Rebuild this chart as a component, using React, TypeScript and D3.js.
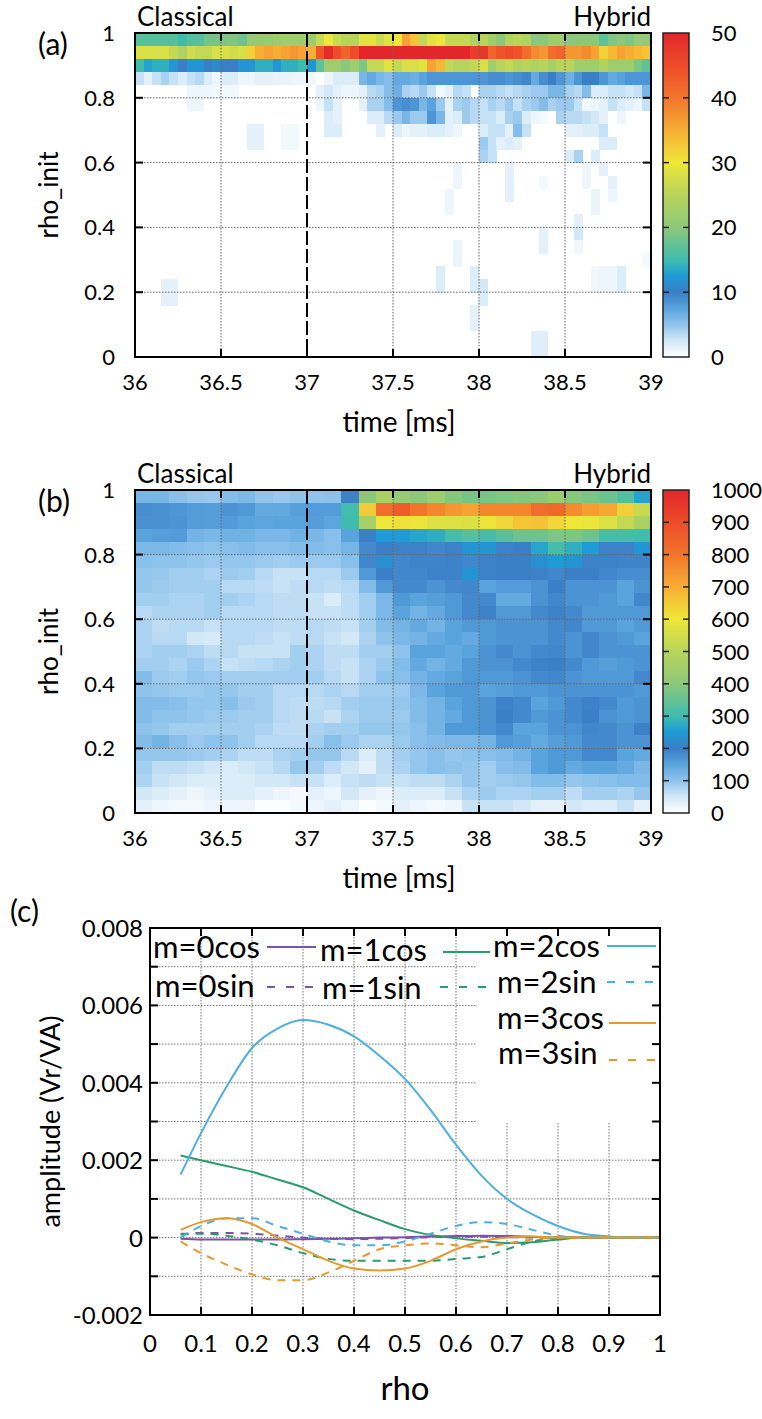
import React from "react";
import * as d3 from "d3";

const W = 762;
const H = 1419;
const FONT = "Lato, 'Open Sans', sans-serif";

// ---------- shared colour map ----------
const cmapStops = [0, 0.05, 0.1, 0.15, 0.2, 0.25, 0.3, 0.4, 0.5, 0.6, 0.7, 0.8, 0.9, 1];
const cmapColors = ["#ffffff", "#d2e8f7", "#8ec3ec", "#5aa4de", "#3a7ec5", "#1f9bd7", "#3ebcae", "#8dc87a", "#b8d45a", "#eee73a", "#f7ae35", "#f2752b", "#ed4b2a", "#e2262a"];

// ---------- panel (a) data : 60 time bins (36..39, 0.05 ms) x 25 rho bins (0.04) ----------
const timeStartA = 36;
const timeStepA = 0.05;
const rhoStep = 0.04;
const maxA = 50;
// rows from rho=1 downward
const heatATop: number[][] = [
  [16.5,16.5,16.5,16.5,16.5,15,16.5,16.5,18.5,18.5,19,19,18,21,21,21,22,22,22,22,21.5,26.5,30,26.5,25,25,29,29,26.5,29,30, 36,33,26,29,30,26,26,26,24,25,22,20,24,25,24,20,20,22,22,20,20,20,20,17,19,20,19,21,21],
  [28,28,28,28,26,24,27,26,26,28,28,27,28,32,35,36,35,36,37,36,35,44,49,45,42,45,50,50,50,50,50, 50,50,50,50,50,50,50,50,47,48,42,44,45,44,41,38,37,41,42,37,37,38,36,32,34,36,35,34,33],
  [15,13,14,14,12,10,12,12,10,11,10,10,12,12,14,14,12,14,14,15,12,17,22,22,20,22,19,26,26,29,26, 28,28,29,36,34,26,25,25,26,28,22,25,26,24,25,24,25,23,25,25,22,22,22,24,22,22,22,19,17],
  [3,1.5,3,4,3,2,3,3.5,2,1,2,2,1,1,1.5,1.5,1.3,1.3,1,1,0.8,0,1,2,2,2,6,7,6,5.5,7, 7,6.5,7.5,8.5,8.5,8.5,8.5,8.5,8.5,8.5,9,9,8.5,9,9.5,7,9,10,8.5,6.5,8.5,10,10,8.5,7,7.5,8.5,8.5,8.5],
  [0,0,0,0,0,0,1,1,1,0.7,0.7,0.7,0,0,0,0,0,0,0,0,0,1.5,2.5,1.5,1,1,1.5,3.5,4,5.5,6.5, 4,3.5,4.5,3,0.7,1.5,3.5,3,0,4,4,3.5,3,3.5,4,4.5,4.5,6,6,4,3.5,5.5,2,2,3,3,2.5,3,6],
  [0,0,0,0,0,0,1,1,0,0,0,0,0,0,0,0,0,0,0,0,0,1,3,1.5,0,0,1.5,4,4,5.5,8.5, 9,8.5,6,7.5,4.5,1.5,4,4.5,3.5,3,4,3.5,4.5,3,4,4.5,5.5,4,4.5,4.5,3,0.7,1,1.5,3,2,1.5,1,3],
  [0,0,0,0,0,0,0,0,0,0,0,0,0,0,0,0,0,0,0,0,0,0,2,1.5,0,0,0,2,2,3.5,4.5, 6,4.5,4.5,8.5,6,1.5,2,4.5,3.5,3,3,2,4,4.5,2,1,0.7,0,4,3.5,3.5,3,2.5,1.5,0,1,0,0,0],
  [0,0,0,0,0,0,0,0,0,0,0,0,0,1.5,1.5,0,0,0.7,0.7,0,0,0,2,2,0,0,0,0,1.5,0,2, 1,1.5,1.5,2,2,1.5,1,0,0,2,3,3,1.5,5.5,3,0,0,0,0,1.5,1.5,2,2,3,0,0,0,0,0],
];
// sparse lower cells: [column, row from top, value]
const heatASparse: [number, number, number][] = [
  [13,8,1.5],[14,8,1.5],[17,8,0.7],[18,8,0.7],[40,8,4.5],[41,8,3],[42,8,1.5],[43,8,2],[44,8,1.5],[54,8,2],[55,8,2],
  [40,9,4],[41,9,3],[50,9,2],[51,9,4],[53,9,2],
  [37,10,1],[43,10,1.5],[52,10,1],[54,10,1.5],
  [37,11,1],[43,11,1.5],[47,11,0.7],[55,11,1.5],[52,11,1],
  [36,12,1],[43,12,1.5],[53,12,1.2],[55,12,1],
  [36,13,1],[53,13,1.2],
  [51,14,1.5],
  [51,15,2.5],[47,15,1.5],
  [51,16,0.8],[47,16,1.5],[37,16,1.2],
  [37,17,1.2],[59,17,0.7],
  [35,18,2],[39,18,2],[53,18,0.8],[54,18,1],[55,18,1],[56,18,2],
  [35,19,2],[39,19,2],[40,19,2.5],[3,19,1.5],[4,19,1.5],[53,19,0.8],[54,19,1],[55,19,1],[56,19,2],
  [40,20,2],[3,20,1.5],[4,20,1.5],
  [39,21,1.5],[39,22,1.5],
  [46,23,1.8],[47,23,1.8],[46,24,1.8],[47,24,1.8],
];

// ---------- panel (b) data : 30 time bins (0.1 ms) x 25 rho bins ----------
const timeStartB = 36;
const timeStepB = 0.1;
const maxB = 1000;
const heatB: number[][] = [
  [120,120,105,95,93,110,115,98,93,100,100,103,195,400,470,420, 400,440,390,370,375,380,390,400,430,390,375,360,330,260],
  [180,175,170,160,158,172,165,140,142,155,160,160,305,650,820,860, 800,770,740,720,770,770,770,820,830,760,730,710,640,530],
  [175,175,172,160,158,162,150,148,150,150,158,148,300,460,600,610, 605,570,570,565,605,630,660,665,630,600,595,570,520,470],
  [150,158,160,125,118,128,128,118,118,128,118,105,150,200,250,250, 265,275,310,330,310,335,360,360,380,380,360,310,310,305],
  [118,118,112,105,100,105,112,105,105,112,112,105,122,185,198,196, 195,188,195,240,240,195,198,265,310,280,250,195,195,240],
  [105,100,100,95,90,95,95,90,85,90,90,90,105,188,230,188, 192,192,195,188,195,198,198,230,250,240,195,195,192,192],
  [95,93,85,85,78,90,85,70,58,58,70,70,90,165,198,188, 188,195,195,240,195,198,198,195,188,198,198,188,180,180],
  [95,90,85,85,85,70,70,65,58,65,70,65,70,112,165,185, 185,172,185,188,150,160,160,172,198,172,172,172,150,172],
  [85,85,78,78,85,85,78,70,65,65,58,40,65,85,118,165, 150,158,165,185,185,140,140,172,188,172,172,165,150,188],
  [70,78,78,78,85,70,70,70,65,65,58,58,65,85,118,150, 125,140,165,185,195,165,165,185,195,185,165,165,165,165],
  [78,65,70,70,58,70,70,70,65,65,70,65,58,85,112,125, 140,125,150,165,165,172,172,172,185,188,165,165,150,165],
  [78,70,70,50,45,70,70,65,58,65,70,58,50,78,100,118, 125,140,150,140,165,172,172,172,185,172,188,172,165,150],
  [78,85,85,78,65,70,58,58,58,85,78,65,65,85,85,100, 150,150,140,150,172,185,172,185,188,172,188,172,172,172],
  [85,85,78,90,78,58,65,70,78,85,78,65,58,78,90,112, 140,125,140,165,172,172,185,195,198,185,165,158,165,172],
  [112,90,85,95,90,85,85,85,85,85,85,70,58,78,100,105, 125,140,150,165,165,165,172,185,188,172,165,165,165,185],
  [100,95,90,90,95,95,85,85,70,70,70,78,70,85,85,90, 118,150,165,165,150,158,165,165,172,172,172,172,172,165],
  [112,112,105,95,95,105,90,85,70,65,65,70,85,90,90,95, 112,125,150,165,172,195,185,150,165,185,195,185,165,172],
  [112,100,100,95,90,90,85,85,70,65,70,58,78,90,90,90, 112,125,140,165,172,198,185,165,172,185,198,172,165,172],
  [100,95,85,85,85,85,85,78,65,65,78,85,85,95,95,95, 105,125,165,165,172,185,150,150,172,172,188,185,172,195],
  [112,125,105,90,100,100,85,70,70,70,85,105,90,78,78,90, 105,112,118,118,125,165,158,140,158,165,185,185,172,172],
  [95,95,95,90,85,78,65,65,78,85,95,95,70,40,65,85, 95,105,95,100,105,112,125,150,165,165,185,185,150,140],
  [85,65,65,58,50,40,50,58,70,95,85,65,50,30,65,78, 95,105,100,95,85,105,112,150,165,140,150,150,140,118],
  [78,58,50,40,40,40,40,50,50,58,58,40,58,65,58,58, 65,65,78,95,85,90,95,112,112,95,100,105,112,112],
  [50,40,30,20,30,40,40,30,20,12,30,20,50,30,20,40, 40,40,58,78,90,78,78,85,85,65,85,85,78,95],
  [30,20,12,12,20,20,20,5,5,12,20,30,20,5,12,30, 20,12,20,58,58,58,50,30,30,50,40,40,58,30],
];

const timeTicks = [36, 36.5, 37, 37.5, 38, 38.5, 39];
const timeGrid = [36.5, 37.5, 38, 38.5];
const rhoTicks = [0, 0.2, 0.4, 0.6, 0.8, 1];
const rhoGrid = [0.2, 0.4, 0.6, 0.8];
const cbTicksA = [0, 10, 20, 30, 40, 50];
const cbTicksB = [0, 100, 200, 300, 400, 500, 600, 700, 800, 900, 1000];
const splitTime = 37;

// ---------- panel (c) data ----------
const rhoC = [0.06, 0.1, 0.15, 0.2, 0.25, 0.3, 0.35, 0.4, 0.45, 0.5, 0.55, 0.6, 0.65, 0.7, 0.75, 0.8, 0.85, 0.9, 0.95, 1.0];
const m0cos = [-0.00003,-0.00005,-0.00005,-0.00005,-0.00005,-0.00004,-0.00003,-0.00002,0,0.00001,0.00003,0.00004,0.00005,0.00004,0.00002,0,0,0,0,0];
const m0sin = [0.00008,0.00012,0.00012,0.0001,0.00005,0,-0.00003,-0.00004,-0.00003,-0.00001,0.00001,0.00002,0.00002,0.00001,0,0,0,0,0,0];
const m1cos = [0.00212,0.002,0.00185,0.0017,0.0015,0.0013,0.001,0.0007,0.00045,0.00022,0.00007,-0.00002,-0.00008,-0.00014,-0.00012,-0.00005,0,0,0,0];
const m1sin = [0.0001,0.0001,0.00005,-0.00005,-0.0002,-0.0004,-0.00055,-0.0006,-0.0006,-0.0006,-0.0006,-0.00055,-0.0005,-0.0003,-0.0001,0,0,0,0,0];
const m2cos = [0.00163,0.0027,0.0039,0.0049,0.0054,0.00562,0.0055,0.0052,0.0047,0.0041,0.0033,0.0024,0.0016,0.001,0.0006,0.0003,0.0001,0.00003,0,0];
const m2sin = [0,0.0003,0.0005,0.0005,0.0003,0.0001,-0.0001,-0.0002,-0.0002,-0.0001,0.0001,0.0003,0.0004,0.00035,0.0002,0.00005,0,0,0,0];
const m3cos = [0.0002,0.0004,0.0005,0.00035,0,-0.0003,-0.0006,-0.0008,-0.00085,-0.0008,-0.0006,-0.0003,-0.0001,0,0.00003,0,0,0,0,0];
const m3sin = [-0.0001,-0.0004,-0.0007,-0.00095,-0.0011,-0.0011,-0.0009,-0.0006,-0.0003,-0.0002,-0.00015,-0.0002,-0.00025,-0.00015,-0.00005,0,0,0,0,0];
const seriesNames = ["m=0cos", "m=0sin", "m=1cos", "m=1sin", "m=2cos", "m=2sin", "m=3cos", "m=3sin"];
const seriesValues = [m0cos, m0sin, m1cos, m1sin, m2cos, m2sin, m3cos, m3sin];
const xTicksC = [0, 0.1, 0.2, 0.3, 0.4, 0.5, 0.6, 0.7, 0.8, 0.9, 1];
const xTickLabelsC = ["0", "0.1", "0.2", "0.3", "0.4", "0.5", "0.6", "0.7", "0.8", "0.9", "1"];
const yTicksC = [-0.002, 0, 0.002, 0.004, 0.006, 0.008];
const yTickLabelsC = ["-0.002", "0", "0.002", "0.004", "0.006", "0.008"];
const yGridC = [-0.001, 0, 0.001, 0.002, 0.003, 0.004, 0.005, 0.006, 0.007];

// styles for series (by mode number m)
const modeColors = ["#7b52a8", "#2a9c6c", "#4daee0", "#e59a30"];
// legend layout: [text x, text baseline y, line x1, line x2, line y]
const legendLayout: [number, number, number, number, number][] = [
  [153, 958, 267, 316, 947],
  [155, 997, 267, 316, 987],
  [320, 961, 443, 490, 952],
  [322, 999, 440, 487, 987],
  [493, 957, 607, 656, 946],
  [497, 993, 607, 656, 982],
  [497, 1029, 609, 656, 1023],
  [498, 1064, 609, 656, 1060],
];

const cmap = d3.scaleLinear<string>().domain(cmapStops).range(cmapColors).interpolate(d3.interpolateRgb).clamp(true);

type Box = { left: number; right: number; top: number; bottom: number };

function HeatPanel(props: {
  box: Box;
  cells: { c: number; r: number; v: number }[];
  t0: number;
  dt: number;
  vmax: number;
  label: string;
  cbTicks: number[];
  cbMax: number;
}) {
  const { box, cells, t0, dt, vmax, label, cbTicks, cbMax } = props;
  const x = d3.scaleLinear().domain([36, 39]).range([box.left, box.right]);
  const y = d3.scaleLinear().domain([0, 1]).range([box.bottom, box.top]);
  const cbX0 = 663;
  const cbX1 = 689;
  const cbY = d3.scaleLinear().domain([0, cbMax]).range([box.bottom, box.top]);
  const gid = "grad" + label.replace(/[()]/g, "");
  const tickFont = 22;
  return (
    <g>
      <defs>
        <linearGradient id={gid} x1="0" y1="1" x2="0" y2="0">
          {cmapStops.map((s, i) => (
            <stop key={i} offset={s} stopColor={cmapColors[i]} />
          ))}
        </linearGradient>
      </defs>
      <g shapeRendering="crispEdges">
        {cells.map((d, i) => {
          const xa = x(t0 + d.c * dt);
          const xb = x(t0 + (d.c + 1) * dt);
          const ya = y(1 - d.r * rhoStep);
          const yb = y(1 - (d.r + 1) * rhoStep);
          return <rect key={i} x={xa} y={ya} width={xb - xa + 0.4} height={yb - ya + 0.4} fill={cmap(d.v / vmax)} />;
        })}
      </g>
      {/* grid */}
      {timeGrid.map((t) => (
        <line key={"gx" + t} x1={x(t)} x2={x(t)} y1={box.top} y2={box.bottom} stroke="#666" strokeWidth={1} strokeDasharray="1.5,1.5" />
      ))}
      {rhoGrid.map((r) => (
        <line key={"gy" + r} x1={box.left} x2={box.right} y1={y(r)} y2={y(r)} stroke="#666" strokeWidth={1} strokeDasharray="1.5,1.5" />
      ))}
      <line x1={x(splitTime)} x2={x(splitTime)} y1={box.top} y2={box.bottom} stroke="#000" strokeWidth={2} strokeDasharray="14,4" />
      {/* ticks */}
      {timeTicks.map((t) => (
        <g key={"tx" + t}>
          <line x1={x(t)} x2={x(t)} y1={box.bottom} y2={box.bottom - 8} stroke="#000" strokeWidth={2} />
          <line x1={x(t)} x2={x(t)} y1={box.top} y2={box.top + 8} stroke="#000" strokeWidth={2} />
          <text x={x(t)} y={box.bottom + 33} textAnchor="middle" fontSize={tickFont} fontFamily={FONT}>
            {t}
          </text>
        </g>
      ))}
      {rhoTicks.map((r) => (
        <g key={"ty" + r}>
          <line x1={box.left} x2={box.left + 8} y1={y(r)} y2={y(r)} stroke="#000" strokeWidth={2} />
          <line x1={box.right} x2={box.right - 8} y1={y(r)} y2={y(r)} stroke="#000" strokeWidth={2} />
          <text x={box.left - 20} y={y(r) + 8} textAnchor="end" fontSize={tickFont} fontFamily={FONT}>
            {r}
          </text>
        </g>
      ))}
      <rect x={box.left} y={box.top} width={box.right - box.left} height={box.bottom - box.top} fill="none" stroke="#000" strokeWidth={2} />
      {/* colorbar */}
      <rect x={cbX0} y={box.top} width={cbX1 - cbX0} height={box.bottom - box.top} fill={`url(#${gid})`} stroke="#222" strokeWidth={1.5} />
      {cbTicks.map((v) => (
        <g key={"cb" + v}>
          {v > 0 && v < cbMax ? (
            <>
              <line x1={cbX0} x2={cbX0 + 6} y1={cbY(v)} y2={cbY(v)} stroke="#222" strokeWidth={1.5} />
              <line x1={cbX1} x2={cbX1 - 6} y1={cbY(v)} y2={cbY(v)} stroke="#222" strokeWidth={1.5} />
            </>
          ) : null}
          <text x={711} y={cbY(v) + 8} fontSize={tickFont} fontFamily={FONT}>
            {v}
          </text>
        </g>
      ))}
      {/* labels */}
      <text x={box.left + 2} y={box.top - 7} fontSize={26} fontFamily={FONT}>Classical</text>
      <text x={box.right} y={box.top - 7} textAnchor="end" fontSize={26} fontFamily={FONT}>Hybrid</text>
      <text x={38} y={box.top + 22} fontSize={30} fontFamily={FONT}>{label}</text>
      <text x={(box.left + box.right) / 2 + 6} y={box.bottom + 75} textAnchor="middle" fontSize={28} fontFamily={FONT}>time [ms]</text>
      <text transform={`translate(58,${(box.top + box.bottom) / 2}) rotate(-90)`} textAnchor="middle" fontSize={26} fontFamily={FONT}>rho_init</text>
    </g>
  );
}

function LinePanel() {
  const box = { left: 150, right: 660, top: 928, bottom: 1315 };
  const x = d3.scaleLinear().domain([0, 1]).range([box.left, box.right]);
  const y = d3.scaleLinear().domain([-0.002, 0.008]).range([box.bottom, box.top]);
  const line = d3
    .line<number>()
    .x((_, i) => x(rhoC[i]))
    .y((v) => y(v))
    .curve(d3.curveMonotoneX);
  return (
    <g>
      {/* grid */}
      {xTicksC.slice(1, -1).map((t) => (
        <line key={"gx" + t} x1={x(t)} x2={x(t)} y1={box.top} y2={box.bottom} stroke="#777" strokeWidth={1} strokeDasharray="1.5,1.5" />
      ))}
      {yGridC.map((v) => (
        <line key={"gy" + v} x1={box.left} x2={box.right} y1={y(v)} y2={y(v)} stroke="#777" strokeWidth={1} strokeDasharray="1.5,1.5" />
      ))}
      {/* opaque key box */}
      <rect x={476} y={box.top + 1} width={box.right - 476 - 1} height={1121 - box.top} fill="#fff" />
      {/* ticks */}
      {xTicksC.map((t, i) => (
        <g key={"tx" + t}>
          <line x1={x(t)} x2={x(t)} y1={box.bottom} y2={box.bottom - 8} stroke="#000" strokeWidth={2} />
          <line x1={x(t)} x2={x(t)} y1={box.top} y2={box.top + 8} stroke="#000" strokeWidth={2} />
          <text x={x(t)} y={box.bottom + 37} textAnchor="middle" fontSize={24} fontFamily={FONT}>
            {xTickLabelsC[i]}
          </text>
        </g>
      ))}
      {yGridC.concat([0.008, -0.002]).map((v) => (
        <g key={"ty" + v}>
          <line x1={box.left} x2={box.left + 8} y1={y(v)} y2={y(v)} stroke="#000" strokeWidth={2} />
          <line x1={box.right} x2={box.right - 8} y1={y(v)} y2={y(v)} stroke="#000" strokeWidth={2} />
        </g>
      ))}
      {yTicksC.map((v, i) => (
        <text key={"yl" + v} x={143} y={y(v) + 9} textAnchor="end" fontSize={24} fontFamily={FONT}>
          {yTickLabelsC[i]}
        </text>
      ))}
      {/* curves */}
      {seriesValues.map((vals, i) => (
        <path
          key={seriesNames[i]}
          d={line(vals) || ""}
          fill="none"
          stroke={modeColors[Math.floor(i / 2)]}
          strokeWidth={2}
          strokeDasharray={i % 2 === 1 ? "8,7" : undefined}
        />
      ))}
      <rect x={box.left} y={box.top} width={box.right - box.left} height={box.bottom - box.top} fill="none" stroke="#000" strokeWidth={2} />
      {/* legend */}
      {seriesNames.map((n, i) => {
        const [tx, ty, lx1, lx2, ly] = legendLayout[i];
        return (
          <g key={"lg" + n}>
            <text x={tx} y={ty} fontSize={31} fontFamily={FONT}>{n}</text>
            <line x1={lx1} x2={lx2} y1={ly} y2={ly} stroke={modeColors[Math.floor(i / 2)]} strokeWidth={2} strokeDasharray={i % 2 === 1 ? "8,11" : undefined} />
          </g>
        );
      })}
      <text x={10} y={922} fontSize={30} fontFamily={FONT}>(c)</text>
      <text x={405} y={1400} textAnchor="middle" fontSize={33} fontFamily={FONT}>rho</text>
      <text transform={`translate(60,${(box.top + box.bottom) / 2}) rotate(-90)`} textAnchor="middle" fontSize={27} fontFamily={FONT}>amplitude (Vr/VA)</text>
    </g>
  );
}

export default function App() {
  const cellsA: { c: number; r: number; v: number }[] = [];
  heatATop.forEach((row, r) => row.forEach((v, c) => { if (v > 0) cellsA.push({ c, r, v }); }));
  heatASparse.forEach(([c, r, v]) => cellsA.push({ c, r, v }));
  const cellsB: { c: number; r: number; v: number }[] = [];
  heatB.forEach((row, r) => row.forEach((v, c) => cellsB.push({ c, r, v })));
  return (
    <svg width={W} height={H} style={{ position: "absolute", left: 0, top: 0, background: "#fff" }}>
      <rect x={0} y={0} width={W} height={H} fill="#fff" />
      <HeatPanel box={{ left: 135, right: 651, top: 33, bottom: 357 }} cells={cellsA} t0={timeStartA} dt={timeStepA} vmax={maxA} label="(a)" cbTicks={cbTicksA} cbMax={maxA} />
      <HeatPanel box={{ left: 135, right: 651, top: 490, bottom: 813 }} cells={cellsB} t0={timeStartB} dt={timeStepB} vmax={maxB} label="(b)" cbTicks={cbTicksB} cbMax={maxB} />
      <LinePanel />
    </svg>
  );
}
